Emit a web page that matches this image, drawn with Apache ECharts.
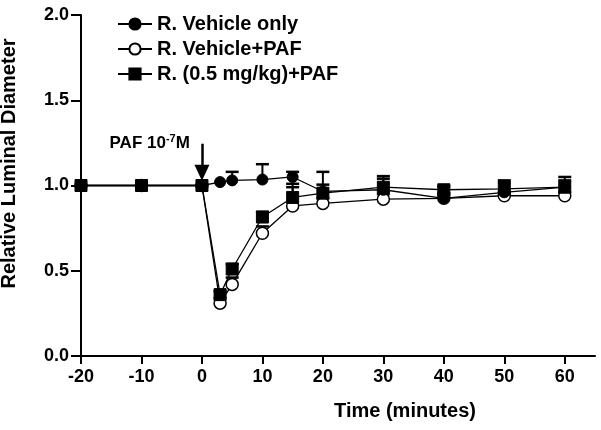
<!DOCTYPE html>
<html><head><meta charset="utf-8">
<script src="https://cdn.jsdelivr.net/npm/echarts@6/dist/echarts.min.js"></script>
<style>html,body{margin:0;padding:0;background:#fff}#c{width:601px;height:430px}</style>
</head><body><div id="c"></div>
<script>
const times = [-20, -10, 0, 3, 5, 10, 15, 20, 30, 40, 50, 60];
const vehicleOnly = [1.0, 1.0, 1.0, 1.02, 1.03, 1.035, 1.05, 0.965, 0.975, 0.925, 0.96, 0.99];
const vehicleOnlyErr = [0, 0, 0, 0, 0.05, 0.09, 0.03, 0.115, 0.08, 0.03, 0.07, 0.06];
const vehiclePAF = [1.0, 1.0, 1.0, 0.31, 0.42, 0.72, 0.88, 0.895, 0.92, 0.925, 0.94, 0.94];
const vehiclePAFErr = [0, 0, 0, 0.03, 0.04, 0.04, 0.11, 0.03, 0.03, 0.02, 0.02, 0.02];
const drugPAF = [1.0, 1.0, 1.0, 0.36, 0.51, 0.815, 0.93, 0.955, 0.99, 0.975, 0.98, 0.99];
const drugPAFErr = [0, 0, 0, 0.02, 0.03, 0.03, 0.08, 0.05, 0.05, 0.02, 0.04, 0.04];
const xTicks = [-20, -10, 0, 10, 20, 30, 40, 50, 60];
const yTicks = [0, 0.5, 1.0, 1.5, 2.0];
const names = ['R. Vehicle only', 'R. Vehicle+PAF', 'R. (0.5 mg/kg)+PAF'];

const font = 'Liberation Sans, Arial, sans-serif';
const pairs = arr => times.map((t, i) => [t, arr[i]]);
const errData = (vals, errs) => times.map((t, i) => [t, vals[i], vals[i] + errs[i]]).filter(d => d[2] > d[1] + 0.005);

function errSeries(vals, errs, z) {
  return {
    type: 'custom', z: z, silent: true,
    data: errData(vals, errs),
    renderItem: function (params, api) {
      const p0 = api.coord([api.value(0), api.value(1)]);
      const p1 = api.coord([api.value(0), api.value(2)]);
      return {
        type: 'group', children: [
          { type: 'line', shape: { x1: p0[0], y1: p0[1], x2: p1[0], y2: p1[1] }, style: { stroke: '#000', lineWidth: 2 } },
          { type: 'line', shape: { x1: p1[0] - 6.5, y1: p1[1], x2: p1[0] + 6.5, y2: p1[1] }, style: { stroke: '#000', lineWidth: 2.5 } }
        ]
      };
    }
  };
}

const chart = echarts.init(document.getElementById('c'), null, { renderer: 'canvas' });
chart.setOption({
  animation: false,
  backgroundColor: '#fff',
  grid: { left: 81, right: 6, top: 15, bottom: 74, containLabel: false, outerBoundsMode: 'none' },
  legend: {
    orient: 'vertical', left: 112, top: 9, itemGap: 5, itemWidth: 34, itemHeight: 14,
    data: names,
    textStyle: { fontFamily: font, fontWeight: 'bold', fontSize: 20, color: '#000' }
  },
  xAxis: {
    type: 'value', min: -20, max: 65, interval: 10,
    splitLine: { show: false },
    axisLine: { onZero: false, lineStyle: { color: '#000', width: 2 } },
    axisTick: { customValues: xTicks, length: 8, lineStyle: { color: '#000', width: 2 } },
    axisLabel: { customValues: xTicks, color: '#000', fontFamily: font, fontWeight: 'bold', fontSize: 18, margin: 12 },
    name: 'Time (minutes)', nameLocation: 'middle', nameGap: 45,
    nameTextStyle: { fontFamily: font, fontWeight: 'bold', fontSize: 20, color: '#000', padding: [0, 0, 0, 134] }
  },
  yAxis: {
    type: 'value', min: 0, max: 2, interval: 0.5,
    splitLine: { show: false },
    axisLine: { onZero: false, lineStyle: { color: '#000', width: 2 } },
    axisTick: { customValues: yTicks, length: 10, lineStyle: { color: '#000', width: 2 } },
    axisLabel: { customValues: yTicks, color: '#000', fontFamily: font, fontWeight: 'bold', fontSize: 18, margin: 12,
      formatter: v => v.toFixed(1) },
    name: 'Relative Luminal Diameter', nameLocation: 'middle', nameGap: 62,
    nameTextStyle: { fontFamily: font, fontWeight: 'bold', fontSize: 20, color: '#000', padding: [0, 0, 0, 44] }
  },
  series: [
    {
      name: names[0], type: 'line', z: 4, data: pairs(vehicleOnly),
      symbol: 'circle', symbolSize: 11,
      lineStyle: { color: '#000', width: 1.3 },
      itemStyle: { color: '#000', borderColor: '#000', borderWidth: 1 }
    },
    {
      name: names[1], type: 'line', z: 3, data: pairs(vehiclePAF),
      symbol: 'circle', symbolSize: 12,
      lineStyle: { color: '#000', width: 1.3 },
      itemStyle: { color: '#fff', borderColor: '#000', borderWidth: 1.5 }
    },
    {
      name: names[2], type: 'line', z: 5, data: pairs(drugPAF),
      symbol: 'rect', symbolSize: 12,
      lineStyle: { color: '#000', width: 1.3 },
      itemStyle: { color: '#000', borderColor: '#000', borderWidth: 1 },
      markLine: {
        silent: true, symbol: ['none', 'triangle'], symbolSize: [15, 16],
        lineStyle: { color: '#000', width: 2.5, type: 'solid' },
        label: { show: false },
        data: [[{ coord: [0, 1.245] }, { coord: [0, 1.075] }]]
      },
      markPoint: {
        silent: true, symbol: 'rect', symbolSize: 1, itemStyle: { color: 'rgba(0,0,0,0)' },
        data: [{ coord: [-2.0, 1.25] }],
        label: {
          show: true, position: 'inside', align: 'right', verticalAlign: 'middle',
          formatter: 'PAF 10{sup|-7}M',
          color: '#000', fontFamily: font, fontWeight: 'bold', fontSize: 17,
          rich: { sup: { fontSize: 11, fontWeight: 'bold', fontFamily: font, verticalAlign: 'top', padding: [0, 0, 8, 0], color: '#000' } }
        }
      }
    },
    errSeries(vehicleOnly, vehicleOnlyErr, 2),
    errSeries(vehiclePAF, vehiclePAFErr, 1),
    errSeries(drugPAF, drugPAFErr, 2)
  ]
});
</script></body></html>
